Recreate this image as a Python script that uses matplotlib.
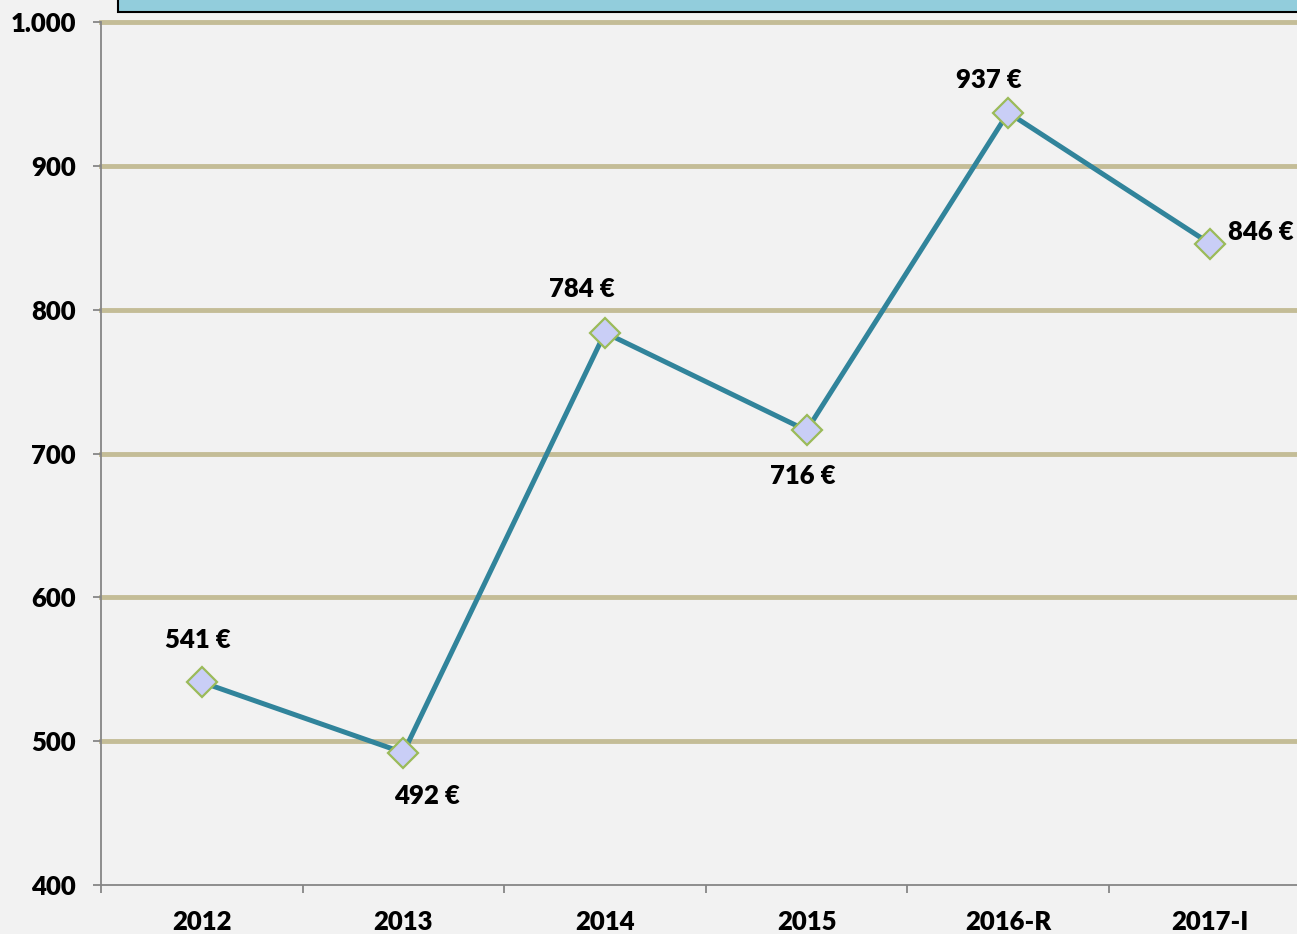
import matplotlib.pyplot as plt
from matplotlib.patches import Rectangle
from matplotlib.ticker import FuncFormatter, FixedLocator

# data
years = ['2012', '2013', '2014', '2015', '2016-R', '2017-I']
values = [541, 492, 784, 716, 937, 846]
# label offsets in pixels (dx, dy) and alignment
label_pos = [(-4, 42, 'center'), (24, -43, 'center'), (-23, 44, 'center'),
             (-4, -46, 'center'), (-19, 33, 'center'), (18, 12, 'left')]

plt.rcParams['font.family'] = ['Lato', 'DejaVu Sans']
plt.rcParams['font.weight'] = 'bold'

W, H = 1297, 934
fig = plt.figure(figsize=(W / 100, H / 100), dpi=100)
fig.patch.set_facecolor('#f2f2f2')

# axes extends a little past the right edge like the original
left, right, top, bottom = 101, 1310.6, 22, 885
ax = fig.add_axes([left / W, 1 - bottom / H, (right - left) / W, (bottom - top) / H])
ax.set_facecolor('#f2f2f2')

# cut-off title box at the top
fig.patches.append(Rectangle((118 / W, 1 - 12 / H), 1.0, 20 / H, transform=fig.transFigure,
                             facecolor='#92cddc', edgecolor='black', linewidth=1.5))

x = list(range(len(years)))
ax.set_xlim(-0.5, len(years) - 0.5)
ax.set_ylim(400, 1000)

for g in [500, 600, 700, 800, 900, 1000]:
    ax.axhline(g, color='#c4bd97', linewidth=3.5, zorder=1, clip_on=False)

ax.plot(x, values, color='#31849b', linewidth=3.6, zorder=3)
ax.plot(x, values, linestyle='none', marker='D', markersize=15,
        markerfacecolor='#c9cef6', markeredgecolor='#9bbb59', markeredgewidth=1.6, zorder=4)

for xi, v, (dx, dy, ha) in zip(x, values, label_pos):
    ax.annotate(f'{v} €', (xi, v), xytext=(dx, dy), textcoords='offset pixels',
                ha=ha, va='center', fontsize=18.5, fontweight='heavy', color='black')

for s in ['top', 'right']:
    ax.spines[s].set_visible(False)
for s in ['left', 'bottom']:
    ax.spines[s].set_color('#868686')
    ax.spines[s].set_linewidth(1.3)

ax.set_yticks([400, 500, 600, 700, 800, 900, 1000])
ax.yaxis.set_major_formatter(FuncFormatter(lambda v, p: f'{int(v):,}'.replace(',', '.')))
ax.tick_params(axis='y', length=6, width=1.3, color='#868686', pad=12, labelsize=18.5)
for t in ax.get_yticklabels():
    t.set_fontweight('heavy')

ax.xaxis.set_major_locator(FixedLocator([i - 0.5 for i in range(len(years) + 1)]))
ax.xaxis.set_major_formatter(FuncFormatter(lambda v, p: ''))
ax.xaxis.set_minor_locator(FixedLocator(x))
ax.set_xticklabels(years, minor=True, fontweight='heavy')
ax.tick_params(axis='x', which='major', length=6, width=1.3, color='#868686')
ax.tick_params(axis='x', which='minor', length=0, pad=18, labelsize=18.5)

fig.savefig('out.png', dpi=100, facecolor=fig.get_facecolor())
